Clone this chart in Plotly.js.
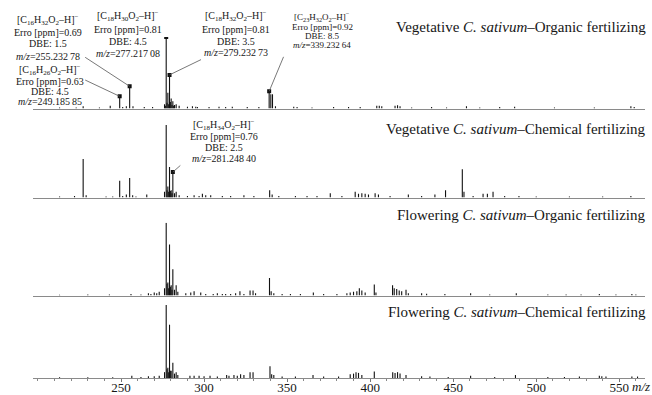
<!DOCTYPE html>
<html><head><meta charset="utf-8">
<script src="https://cdn.plot.ly/plotly-3.0.1.min.js"></script>
<style>html,body{margin:0;padding:0;background:#fff;}#chart{width:652px;height:395px;}</style>
</head><body><div id="chart"></div>
<script>
// ---------------- DATA ----------------
const panelTitles = [
  "Vegetative <i>C. sativum</i>–Organic fertilizing",
  "Vegetative <i>C. sativum</i>–Chemical fertilizing",
  "Flowering <i>C. sativum</i>–Organic fertilizing",
  "Flowering <i>C. sativum</i>–Chemical fertilizing"
];
// Panel 1: Vegetative – Organic
const mz1  = [213,223,227.2,237,243.5,249.2,251,253.2,255.2,257.2,264,269,276.2,276.7,277.2,277.7,278.2,278.7,279.2,279.7,280.2,280.7,281.2,281.7,282.2,283.2,285,290,293,295,296,303,309,313,317,326,333,339.2,340.2,341.2,343,354,356,365,378,387,394,404,405.5,407,415,416.5,418,425,437,446,458,466,478,487,511,535,557,559];
const int1 = [1.5,1.5,3,1.5,4,17,2,3,31,3,2,2,6,4,100,8,22,6,47,9,14,5,10,4,5,6,4,2.5,3,2.5,2,2,2.5,2,2.5,2,2,24,20,20,3,2.5,2,1.5,2,2,2,4,4,3,4,4.5,3,1.5,2,1.5,3,1.5,2,2.5,1.5,1.5,3,2];
// Panel 2: Vegetative – Chemical
const mz2  = [213,222,227.2,229,241,245,249.2,251,253.2,255.2,257,259,265.5,276.2,277.2,277.7,278.2,278.7,279.2,279.7,280.2,280.7,281.2,282.2,283.2,285,290,294,297,299,301,304,311,316,324,330,339.5,341,345,355,362,368,376,383,391,393,395,397,399,403,405,412,423,431,439,445.4,455.5,456.5,462,468,470.6,474,481,489.6,500,520,540,557];
const int2 = [1.5,2,53,3,1.5,1.5,23,2,4,27,3,1.5,4,8,100,10,15,8,42,9,10,6,35,6,8,3,2,3,2,5,3,3,2,2,3,2,10,4,2,2,2,2,6,2,8,5,6,5,4,6,4,2,4,2,4,10,39,8,2,5,5,8,2,2,1.5,1.5,1.5,2];
// Panel 3: Flowering – Organic
const mz3  = [213,230,243,256,262,266.5,268,270,271.5,273,276.2,277.2,277.7,278.2,278.7,279.2,279.7,280.2,280.7,281.2,282.2,283.2,284.2,289,292,294,298,301,305.5,308,311,313,316,319,321.6,324,327.7,329.5,331,339.4,340.4,342,347,352,358,365.8,372,380,386,388,390,392,393.5,395,397,402.5,403.5,413.5,414.5,416,417.5,419,421.6,423,431,434,445,460.5,472,488,507,518,527,538,548,557.6,560];
const int3 = [1,1.5,1.5,2,1.5,3,2,4,3,5,10,100,16,18,10,70,12,14,8,36,8,14,5,3,4,6,4,2,2,3,2,2,2,3,6,2,7,7,3,24,6,3,2,2,2,4,2,2,3,4,5,6,10,7,4,15,4,14,10,9,7,6,8,3,3,2.5,2,3,1.5,3,1.5,1.5,1.5,2,1.5,2,1.5];
// Panel 4: Flowering – Chemical
const mz4  = [213,230,245,256.5,262,266.5,270,273,276.2,277.2,277.7,278.2,278.7,279.2,279.7,280.2,281.2,282.2,283.2,284.2,291.5,294,297,300,303.6,308,313.6,315,318,320,322,324,327.7,329.5,339.7,340.7,342,347,355,365.6,372,381,388,390,391.5,393,395,402.5,413.6,415,416.5,418,421.6,431,436,447,460.5,475,487.5,507,517,526,538,539.5,542,557.6,561];
const int4 = [1,1,1,3,1.5,2.5,2.5,3,8,100,12,14,8,73,10,10,21,6,8,4,3,3,3,2.5,3,2,4,3,4,3,5,4,8,8,16,5,4,2,2,4,2,2,5,6,8,7,4,9,8,7,8,6,4,2.5,2,1.5,3,1.5,4,1.5,1.5,2,3,2.5,2,2,2];

const tickVals = [250,300,350,400,450,500,550];
const tickText = ["250","300","350","400","450","500","550"];

// Annotated ions
const ionFormula = [
  "[C<sub>16</sub>H<sub>32</sub>O<sub>2</sub>–H]<sup>−</sup>",
  "[C<sub>16</sub>H<sub>26</sub>O<sub>2</sub>–H]<sup>−</sup>",
  "[C<sub>18</sub>H<sub>30</sub>O<sub>2</sub>–H]<sup>−</sup>",
  "[C<sub>18</sub>H<sub>32</sub>O<sub>2</sub>–H]<sup>−</sup>",
  "[C<sub>23</sub>H<sub>32</sub>O<sub>2</sub>–H]<sup>−</sup>",
  "[C<sub>18</sub>H<sub>34</sub>O<sub>2</sub>–H]<sup>−</sup>"
];
const ionErro  = ["0.69","0.63","0.81","0.81","0.92","0.76"];
const ionDBE   = ["1.5","4.5","4.5","3.5","8.5","2.5"];
const ionMzTxt = ["255.232\u200978","249.185\u200985","277.217\u200908","279.232\u200973","339.232\u200964","281.248\u200940"];
const ionPeak  = [255.2,249.2,277.2,279.2,339.2,281.2];
const ionPanel = [1,1,1,1,1,2];

// ---------------- LAYOUT HELPERS ----------------
const W = 652, Hfig = 395, ML = 33, MR = 7, MT = 0, MB = 17;
const PW = W - ML - MR, PH = Hfig - MT - MB;
const px = x => (x - ML) / PW;
const py = y => 1 - (y - MT) / PH;
const FONT = "'Liberation Serif', 'Times New Roman', Times, serif";
const INK = "#161616";

// panel vertical extents in pixels [baseline, top]
const panelPx = [[108.5, 37], [197.5, 125], [295.5, 222.7], [378, 305]];
const mzs = [mz1, mz2, mz3, mz4], ints = [int1, int2, int3, int4];
const xa = ['x2', 'x3', 'x4', 'x'], ya = ['y', 'y2', 'y3', 'y4'];

const traces = [];
for (let p = 0; p < 4; p++) {
  const X = [], Y = [];
  mzs[p].forEach((m, i) => { X.push(m, m, null); Y.push(0, ints[p][i], null); });
  traces.push({x: X, y: Y, type: 'scatter', mode: 'lines', xaxis: xa[p], yaxis: ya[p],
    line: {color: '#111', width: 1.1}, hoverinfo: 'skip', showlegend: false});
}
// dots at annotated peaks
for (let p = 1; p <= 2; p++) {
  const dx = [], dy = [];
  ionPeak.forEach((m, i) => {
    if (ionPanel[i] === p) { dx.push(m); dy.push(ints[p-1][mzs[p-1].indexOf(m)]); }
  });
  traces.push({x: dx, y: dy, type: 'scatter', mode: 'markers', xaxis: xa[p-1], yaxis: ya[p-1],
    marker: {symbol: 'square', size: 4, color: '#111'}, hoverinfo: 'skip', showlegend: false});
}

// annotation placement (pixels): center x, 4 line y's, font size, arrow offset
const ionPos = [
  {cx: 48,  ys: [19.5, 32, 43.5, 56],     fs: 10, arrow: [-46, -30]},
  {cx: 50,  ys: [70, 81.5, 91.5, 101.5],  fs: 10, arrow: [-36, -17]},
  {cx: 128, ys: [16, 29, 41.5, 53],       fs: 10, arrow: null},
  {cx: 236, ys: [16.5, 29.5, 41.5, 52.5], fs: 10, arrow: [33, -16]},
  {cx: 322, ys: [16, 27, 36, 45],         fs: 9,  arrow: [15, -36]},
  {cx: 224, ys: [125, 136.5, 147.5, 158.5], fs: 10, arrow: [9, -8]}
];

const annotations = [];
ionFormula.forEach((f, i) => {
  const pos = ionPos[i];
  const lines = [f, "Erro [ppm]=" + ionErro[i], "DBE: " + ionDBE[i], "<i>m/z</i>=" + ionMzTxt[i]];
  lines.forEach((t, k) => annotations.push({
    text: t, xref: 'paper', yref: 'paper', x: px(pos.cx), y: py(pos.ys[k]),
    xanchor: 'center', yanchor: 'middle', showarrow: false,
    font: {family: FONT, size: pos.fs, color: INK}
  }));
  if (pos.arrow) {
    const p = ionPanel[i];
    annotations.push({
      text: '', xref: xa[p-1], yref: ya[p-1], x: ionPeak[i],
      y: ints[p-1][mzs[p-1].indexOf(ionPeak[i])],
      showarrow: true, arrowhead: 0, arrowwidth: 0.8, arrowcolor: '#555',
      ax: pos.arrow[0], ay: pos.arrow[1], standoff: 0
    });
  }
});
// panel titles
const titleY = [27, 128.5, 215, 311.5];
panelTitles.forEach((t, i) => annotations.push({
  text: t, xref: 'paper', yref: 'paper', x: px(647.5), y: py(titleY[i]),
  xanchor: 'right', yanchor: 'middle', showarrow: false,
  font: {family: FONT, size: 15, color: INK}
}));
// m/z axis label
annotations.push({text: '<i>m/z</i>', xref: 'paper', yref: 'paper', x: px(640.5), y: py(386.5),
  xanchor: 'center', yanchor: 'middle', showarrow: false, font: {family: FONT, size: 13, color: INK}});

const baseX = {showline: true, linecolor: '#8a8a8a', linewidth: 1, showgrid: false, zeroline: false,
  range: [197, 565.5], fixedrange: true};
const layout = {
  width: W, height: Hfig, margin: {l: ML, r: MR, t: MT, b: MB},
  paper_bgcolor: '#fff', plot_bgcolor: '#fff', showlegend: false,
  xaxis: Object.assign({}, baseX, {anchor: 'y4', ticks: 'outside', ticklen: 3, tickwidth: 1, tickcolor: '#777',
    tickmode: 'array', tickvals: tickVals, ticktext: tickText, ticklabelstandoff: -6,
    tickfont: {family: FONT, size: 13, color: INK},
    minor: {tickmode: 'linear', tick0: 0, dtick: 10, ticks: 'outside', ticklen: 2, tickwidth: 1, tickcolor: '#888', showgrid: false}}),
  xaxis2: Object.assign({}, baseX, {anchor: 'y', matches: 'x', showticklabels: false, ticks: ''}),
  xaxis3: Object.assign({}, baseX, {anchor: 'y2', matches: 'x', showticklabels: false, ticks: ''}),
  xaxis4: Object.assign({}, baseX, {anchor: 'y3', matches: 'x', showticklabels: false, ticks: ''}),
  annotations: annotations
};
const yNames = ['yaxis', 'yaxis2', 'yaxis3', 'yaxis4'];
panelPx.forEach((pp, i) => {
  layout[yNames[i]] = {domain: [Math.max(0, py(pp[0])), py(pp[1])], range: [0, 100], visible: false, fixedrange: true};
});

Plotly.newPlot('chart', traces, layout, {staticPlot: true, displayModeBar: false});
</script>
</body></html>
